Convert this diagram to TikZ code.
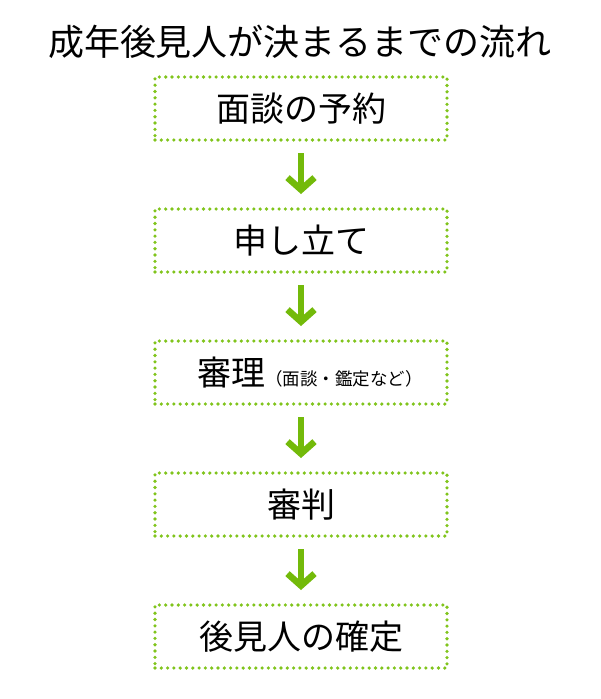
\documentclass[tikz,border=0pt]{standalone}
\usepackage{fontspec}
\newfontfamily\jpfont{Noto Sans CJK JP}
\usetikzlibrary{arrows.meta,positioning}
\definecolor{dotgreen}{RGB}{128,196,28}
\definecolor{arrgreen}{RGB}{115,186,10}
\tikzset{stepbox/.style={draw=dotgreen,line width=3.6pt,dash pattern=on 0pt off 6.3pt,line cap=round,
  minimum width=292pt,minimum height=63pt,inner sep=0pt,outer sep=0pt,font=\jpfont\fontsize{34}{40}\selectfont},
 flow/.style={draw=arrgreen,line width=6.5pt,-{Straight Barb[length=12pt,width=27pt,line width=6.5pt]},
  shorten <=13pt,shorten >=15pt}}

\begin{document}
\begin{tikzpicture}
\useasboundingbox (0pt,0pt) rectangle (600pt,-699pt);
\node[font=\jpfont\fontsize{36}{40}\selectfont](title) at (300pt,-42pt){成年後見人が決まるまでの流れ};
\node[stepbox](s1) at (301pt,-108.5pt){面談の予約};
\node[stepbox,below=69pt of s1](s2){申し立て};
\node[stepbox,below=69pt of s2](s3){\hspace*{18pt}審理{\fontsize{17.5}{20}\selectfont （面談・鑑定など）}};
\node[stepbox,below=69pt of s3](s4){審判};
\node[stepbox,below=69pt of s4](s5){後見人の確定};
\foreach \i/\j in {s1/s2,s2/s3,s3/s4,s4/s5}
 \draw[flow](\i)--(\j);
\end{tikzpicture}
\end{document}
